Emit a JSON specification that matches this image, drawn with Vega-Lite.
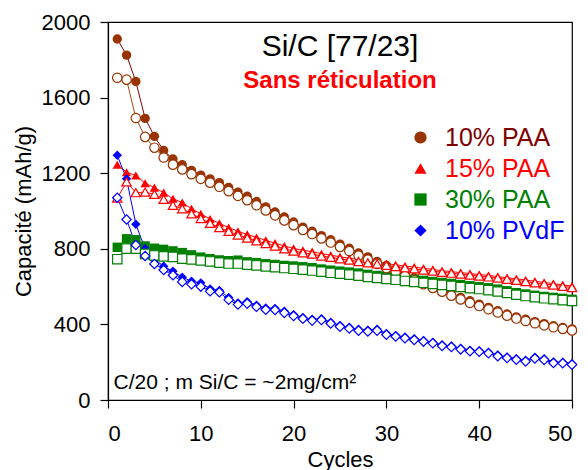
{
  "$schema": "https://vega.github.io/schema/vega-lite/v6.json",
  "width": 464,
  "height": 378,
  "autosize": "none",
  "padding": {"left": 108, "top": 22, "right": 16, "bottom": 70},
  "background": "white",
  "config": {
    "font": "Liberation Sans",
    "view": {"stroke": "black", "strokeWidth": 1.2},
    "axis": {
      "grid": false,
      "domainColor": "black",
      "domainWidth": 1.2,
      "tickColor": "black",
      "tickWidth": 1.2,
      "tickSize": 8,
      "labelColor": "black",
      "labelFontSize": 22,
      "labelFont": "Liberation Sans",
      "titleColor": "black",
      "titleFontSize": 22,
      "titleFont": "Liberation Sans",
      "titleFontWeight": "normal"
    }
  },
  "datasets": {
    "cap": [
      {"s":"10% PAA","c":1,"f":1910,"o":1705},{"s":"10% PAA","c":2,"f":1825,"o":1695},{"s":"10% PAA","c":3,"f":1685,"o":1492},{"s":"10% PAA","c":4,"f":1490,"o":1392},{"s":"10% PAA","c":5,"f":1395,"o":1335},
      {"s":"10% PAA","c":6,"f":1320,"o":1283},{"s":"10% PAA","c":7,"f":1275,"o":1245},{"s":"10% PAA","c":8,"f":1245,"o":1220},{"s":"10% PAA","c":9,"f":1215,"o":1195},{"s":"10% PAA","c":10,"f":1190,"o":1170},
      {"s":"10% PAA","c":11,"f":1170,"o":1150},{"s":"10% PAA","c":12,"f":1150,"o":1128},{"s":"10% PAA","c":13,"f":1125,"o":1105},{"s":"10% PAA","c":14,"f":1100,"o":1080},{"s":"10% PAA","c":15,"f":1078,"o":1057},
      {"s":"10% PAA","c":16,"f":1050,"o":1030},{"s":"10% PAA","c":17,"f":1022,"o":1003},{"s":"10% PAA","c":18,"f":995,"o":977},{"s":"10% PAA","c":19,"f":968,"o":950},{"s":"10% PAA","c":20,"f":942,"o":925},
      {"s":"10% PAA","c":21,"f":915,"o":900},{"s":"10% PAA","c":22,"f":893,"o":878},{"s":"10% PAA","c":23,"f":870,"o":855},{"s":"10% PAA","c":24,"f":848,"o":833},{"s":"10% PAA","c":25,"f":825,"o":810},
      {"s":"10% PAA","c":26,"f":803,"o":788},{"s":"10% PAA","c":27,"f":778,"o":764},{"s":"10% PAA","c":28,"f":757,"o":743},{"s":"10% PAA","c":29,"f":733,"o":720},{"s":"10% PAA","c":30,"f":712,"o":698},
      {"s":"10% PAA","c":31,"f":690,"o":677},{"s":"10% PAA","c":32,"f":668,"o":655},{"s":"10% PAA","c":33,"f":647,"o":634},{"s":"10% PAA","c":34,"f":625,"o":613},{"s":"10% PAA","c":35,"f":605,"o":593},
      {"s":"10% PAA","c":36,"f":585,"o":573},{"s":"10% PAA","c":37,"f":563,"o":552},{"s":"10% PAA","c":38,"f":543,"o":532},{"s":"10% PAA","c":39,"f":525,"o":514},{"s":"10% PAA","c":40,"f":507,"o":497},
      {"s":"10% PAA","c":41,"f":490,"o":480},{"s":"10% PAA","c":42,"f":472,"o":463},{"s":"10% PAA","c":43,"f":455,"o":446},{"s":"10% PAA","c":44,"f":440,"o":431},{"s":"10% PAA","c":45,"f":427,"o":418},
      {"s":"10% PAA","c":46,"f":415,"o":406},{"s":"10% PAA","c":47,"f":404,"o":395},{"s":"10% PAA","c":48,"f":393,"o":385},{"s":"10% PAA","c":49,"f":384,"o":376},{"s":"10% PAA","c":50,"f":376,"o":368},

      {"s":"15% PAA","c":1,"f":1245,"o":1068},{"s":"15% PAA","c":2,"f":1205,"o":1154},{"s":"15% PAA","c":3,"f":1188,"o":1097},{"s":"15% PAA","c":4,"f":1147,"o":1100},{"s":"15% PAA","c":5,"f":1124,"o":1088},
      {"s":"15% PAA","c":6,"f":1097,"o":1062},{"s":"15% PAA","c":7,"f":1065,"o":1030},{"s":"15% PAA","c":8,"f":1045,"o":1012},{"s":"15% PAA","c":9,"f":1012,"o":985},{"s":"15% PAA","c":10,"f":985,"o":960},
      {"s":"15% PAA","c":11,"f":958,"o":935},{"s":"15% PAA","c":12,"f":935,"o":912},{"s":"15% PAA","c":13,"f":912,"o":892},{"s":"15% PAA","c":14,"f":893,"o":873},{"s":"15% PAA","c":15,"f":876,"o":857},
      {"s":"15% PAA","c":16,"f":860,"o":842},{"s":"15% PAA","c":17,"f":845,"o":828},{"s":"15% PAA","c":18,"f":830,"o":815},{"s":"15% PAA","c":19,"f":815,"o":800},{"s":"15% PAA","c":20,"f":802,"o":788},
      {"s":"15% PAA","c":21,"f":792,"o":779},{"s":"15% PAA","c":22,"f":785,"o":772},{"s":"15% PAA","c":23,"f":774,"o":762},{"s":"15% PAA","c":24,"f":766,"o":755},{"s":"15% PAA","c":25,"f":758,"o":747},
      {"s":"15% PAA","c":26,"f":750,"o":740},{"s":"15% PAA","c":27,"f":743,"o":733},{"s":"15% PAA","c":28,"f":736,"o":726},{"s":"15% PAA","c":29,"f":729,"o":720},{"s":"15% PAA","c":30,"f":722,"o":713},
      {"s":"15% PAA","c":31,"f":715,"o":706},{"s":"15% PAA","c":32,"f":709,"o":700},{"s":"15% PAA","c":33,"f":703,"o":694},{"s":"15% PAA","c":34,"f":697,"o":688},{"s":"15% PAA","c":35,"f":691,"o":682},
      {"s":"15% PAA","c":36,"f":684,"o":676},{"s":"15% PAA","c":37,"f":679,"o":671},{"s":"15% PAA","c":38,"f":674,"o":666},{"s":"15% PAA","c":39,"f":669,"o":661},{"s":"15% PAA","c":40,"f":664,"o":656},
      {"s":"15% PAA","c":41,"f":659,"o":651},{"s":"15% PAA","c":42,"f":653,"o":645},{"s":"15% PAA","c":43,"f":647,"o":639},{"s":"15% PAA","c":44,"f":641,"o":633},{"s":"15% PAA","c":45,"f":635,"o":627},
      {"s":"15% PAA","c":46,"f":628,"o":620},{"s":"15% PAA","c":47,"f":622,"o":614},{"s":"15% PAA","c":48,"f":616,"o":608},{"s":"15% PAA","c":49,"f":609,"o":601},{"s":"15% PAA","c":50,"f":603,"o":595},

      {"s":"30% PAA","c":1,"f":808,"o":745},{"s":"30% PAA","c":2,"f":853,"o":801},{"s":"30% PAA","c":3,"f":848,"o":801},{"s":"30% PAA","c":4,"f":815,"o":773},{"s":"30% PAA","c":5,"f":803,"o":765},
      {"s":"30% PAA","c":6,"f":797,"o":760},{"s":"30% PAA","c":7,"f":789,"o":757},{"s":"30% PAA","c":8,"f":780,"o":748},{"s":"30% PAA","c":9,"f":768,"o":744},{"s":"30% PAA","c":10,"f":756,"o":738},
      {"s":"30% PAA","c":11,"f":748,"o":733},{"s":"30% PAA","c":12,"f":741,"o":727},{"s":"30% PAA","c":13,"f":737,"o":722},{"s":"30% PAA","c":14,"f":740,"o":722},{"s":"30% PAA","c":15,"f":731,"o":716},
      {"s":"30% PAA","c":16,"f":727,"o":712},{"s":"30% PAA","c":17,"f":721,"o":707},{"s":"30% PAA","c":18,"f":717,"o":703},{"s":"30% PAA","c":19,"f":712,"o":698},{"s":"30% PAA","c":20,"f":709,"o":694},
      {"s":"30% PAA","c":21,"f":705,"o":690},{"s":"30% PAA","c":22,"f":700,"o":685},{"s":"30% PAA","c":23,"f":693,"o":679},{"s":"30% PAA","c":24,"f":687,"o":673},{"s":"30% PAA","c":25,"f":682,"o":668},
      {"s":"30% PAA","c":26,"f":677,"o":663},{"s":"30% PAA","c":27,"f":672,"o":658},{"s":"30% PAA","c":28,"f":665,"o":651},{"s":"30% PAA","c":29,"f":659,"o":646},{"s":"30% PAA","c":30,"f":655,"o":641},
      {"s":"30% PAA","c":31,"f":649,"o":636},{"s":"30% PAA","c":32,"f":643,"o":630},{"s":"30% PAA","c":33,"f":638,"o":625},{"s":"30% PAA","c":34,"f":633,"o":620},{"s":"30% PAA","c":35,"f":627,"o":614},
      {"s":"30% PAA","c":36,"f":622,"o":609},{"s":"30% PAA","c":37,"f":617,"o":604},{"s":"30% PAA","c":38,"f":611,"o":598},{"s":"30% PAA","c":39,"f":605,"o":592},{"s":"30% PAA","c":40,"f":600,"o":587},
      {"s":"30% PAA","c":41,"f":594,"o":581},{"s":"30% PAA","c":42,"f":587,"o":574},{"s":"30% PAA","c":43,"f":578,"o":566},{"s":"30% PAA","c":44,"f":568,"o":557},{"s":"30% PAA","c":45,"f":561,"o":550},
      {"s":"30% PAA","c":46,"f":554,"o":544},{"s":"30% PAA","c":47,"f":548,"o":538},{"s":"30% PAA","c":48,"f":543,"o":533},{"s":"30% PAA","c":49,"f":538,"o":528},{"s":"30% PAA","c":50,"f":533,"o":524},

      {"s":"10% PVdF","c":1,"f":1295,"o":1070},{"s":"10% PVdF","c":2,"f":1170,"o":955},{"s":"10% PVdF","c":3,"f":930,"o":820},{"s":"10% PVdF","c":4,"f":800,"o":762},{"s":"10% PVdF","c":5,"f":745,"o":720},
      {"s":"10% PVdF","c":6,"f":708,"o":688},{"s":"10% PVdF","c":7,"f":681,"o":660},{"s":"10% PVdF","c":8,"f":650,"o":625},{"s":"10% PVdF","c":9,"f":628,"o":612},{"s":"10% PVdF","c":10,"f":620,"o":600},
      {"s":"10% PVdF","c":11,"f":588,"o":575},{"s":"10% PVdF","c":12,"f":580,"o":570},{"s":"10% PVdF","c":13,"f":542,"o":530},{"s":"10% PVdF","c":14,"f":514,"o":505},{"s":"10% PVdF","c":15,"f":520,"o":510},
      {"s":"10% PVdF","c":16,"f":502,"o":493},{"s":"10% PVdF","c":17,"f":487,"o":478},{"s":"10% PVdF","c":18,"f":485,"o":476},{"s":"10% PVdF","c":19,"f":470,"o":461},{"s":"10% PVdF","c":20,"f":452,"o":444},
      {"s":"10% PVdF","c":21,"f":437,"o":430},{"s":"10% PVdF","c":22,"f":427,"o":420},{"s":"10% PVdF","c":23,"f":430,"o":423},{"s":"10% PVdF","c":24,"f":412,"o":405},{"s":"10% PVdF","c":25,"f":395,"o":388},
      {"s":"10% PVdF","c":26,"f":385,"o":378},{"s":"10% PVdF","c":27,"f":374,"o":367},{"s":"10% PVdF","c":28,"f":370,"o":363},{"s":"10% PVdF","c":29,"f":374,"o":367},{"s":"10% PVdF","c":30,"f":352,"o":345},
      {"s":"10% PVdF","c":31,"f":342,"o":336},{"s":"10% PVdF","c":32,"f":333,"o":327},{"s":"10% PVdF","c":33,"f":324,"o":318},{"s":"10% PVdF","c":34,"f":315,"o":309},{"s":"10% PVdF","c":35,"f":306,"o":300},
      {"s":"10% PVdF","c":36,"f":292,"o":286},{"s":"10% PVdF","c":37,"f":286,"o":280},{"s":"10% PVdF","c":38,"f":274,"o":268},{"s":"10% PVdF","c":39,"f":264,"o":258},{"s":"10% PVdF","c":40,"f":261,"o":255},
      {"s":"10% PVdF","c":41,"f":253,"o":247},{"s":"10% PVdF","c":42,"f":238,"o":232},{"s":"10% PVdF","c":43,"f":228,"o":222},{"s":"10% PVdF","c":44,"f":219,"o":213},{"s":"10% PVdF","c":45,"f":210,"o":204},
      {"s":"10% PVdF","c":46,"f":226,"o":220},{"s":"10% PVdF","c":47,"f":218,"o":212},{"s":"10% PVdF","c":48,"f":202,"o":196},{"s":"10% PVdF","c":49,"f":200,"o":194},{"s":"10% PVdF","c":50,"f":192,"o":187}
    ]
  },
  "resolve": {"scale": {"stroke": "independent"}},
  "layer": [
    {
      "data": {"name": "cap"},
      "mark": {"type": "line", "strokeWidth": 1},
      "encoding": {
        "x": {"field": "c", "type": "quantitative", "scale": {"domain": [0, 50], "nice": false}, "axis": {"values": [0, 10, 20, 30, 40, 50], "title": "Cycles", "labelPadding": 15, "titlePadding": 5}},
        "y": {"field": "f", "type": "quantitative", "scale": {"domain": [0, 2000], "nice": false}, "axis": {"values": [0, 400, 800, 1200, 1600, 2000], "format": "d", "title": "Capacité (mAh/g)", "labelPadding": 10, "titlePadding": 6}},
        "stroke": {"field": "s", "type": "nominal", "scale": {"domain": ["10% PAA", "15% PAA", "30% PAA", "10% PVdF"], "range": ["#800000", "#ff0000", "#008000", "#0000ff"]}, "legend": null}
      }
    },
    {
      "data": {"name": "cap"},
      "mark": {"type": "line", "strokeWidth": 1},
      "encoding": {
        "x": {"field": "c", "type": "quantitative"},
        "y": {"field": "o", "type": "quantitative"},
        "stroke": {"field": "s", "type": "nominal", "scale": {"domain": ["10% PAA", "15% PAA", "30% PAA", "10% PVdF"], "range": ["#a34a10", "#ff0000", "#229922", "#0000ff"]}, "legend": null}
      }
    },
    {
      "data": {"name": "cap"},
      "mark": {"type": "point", "filled": true, "opacity": 1, "size": 88},
      "encoding": {
        "x": {"field": "c", "type": "quantitative"},
        "y": {"field": "f", "type": "quantitative"},
        "color": {"field": "s", "type": "nominal", "scale": {"domain": ["10% PAA", "15% PAA", "30% PAA", "10% PVdF"], "range": ["#993300", "#ff0000", "#008000", "#0000ff"]},
          "legend": {"title": null, "orient": "none", "legendX": 300, "legendY": 103, "padding": 0, "labelFontSize": 25, "labelFont": "Liberation Sans", "labelOffset": 12, "rowPadding": 5, "symbolSize": 150, "symbolStrokeWidth": 0, "symbolOpacity": 1,
            "labelColor": {"expr": "datum.value === '10% PAA' ? '#800000' : datum.value === '15% PAA' ? '#ff0000' : datum.value === '30% PAA' ? '#008000' : '#0000ff'"}}},
        "shape": {"field": "s", "type": "nominal", "scale": {"domain": ["10% PAA", "15% PAA", "30% PAA", "10% PVdF"], "range": ["circle", "triangle-up", "square", "diamond"]}}
      }
    },
    {
      "data": {"name": "cap"},
      "mark": {"type": "point", "filled": false, "fill": "white", "fillOpacity": 1, "opacity": 1, "strokeWidth": 1.2, "size": 88},
      "encoding": {
        "x": {"field": "c", "type": "quantitative"},
        "y": {"field": "o", "type": "quantitative"},
        "color": {"field": "s", "type": "nominal"},
        "shape": {"field": "s", "type": "nominal"}
      }
    },
    {
      "data": {"values": [{}]},
      "mark": {"type": "text", "fontSize": 30, "font": "Liberation Sans", "color": "black", "align": "center", "baseline": "middle"},
      "encoding": {"x": {"datum": 25}, "y": {"datum": 1870}, "text": {"value": "Si/C [77/23]"}}
    },
    {
      "data": {"values": [{}]},
      "mark": {"type": "text", "fontSize": 24, "fontWeight": "bold", "font": "Liberation Sans", "color": "#ff0000", "align": "center", "baseline": "middle"},
      "encoding": {"x": {"datum": 25}, "y": {"datum": 1690}, "text": {"value": "Sans réticulation"}}
    },
    {
      "data": {"values": [{}]},
      "mark": {"type": "text", "fontSize": 21, "font": "Liberation Sans", "color": "black", "align": "left", "baseline": "middle"},
      "encoding": {"x": {"datum": 0.6}, "y": {"datum": 88}, "text": {"value": "C/20 ; m Si/C = ~2mg/cm²"}}
    }
  ]
}
